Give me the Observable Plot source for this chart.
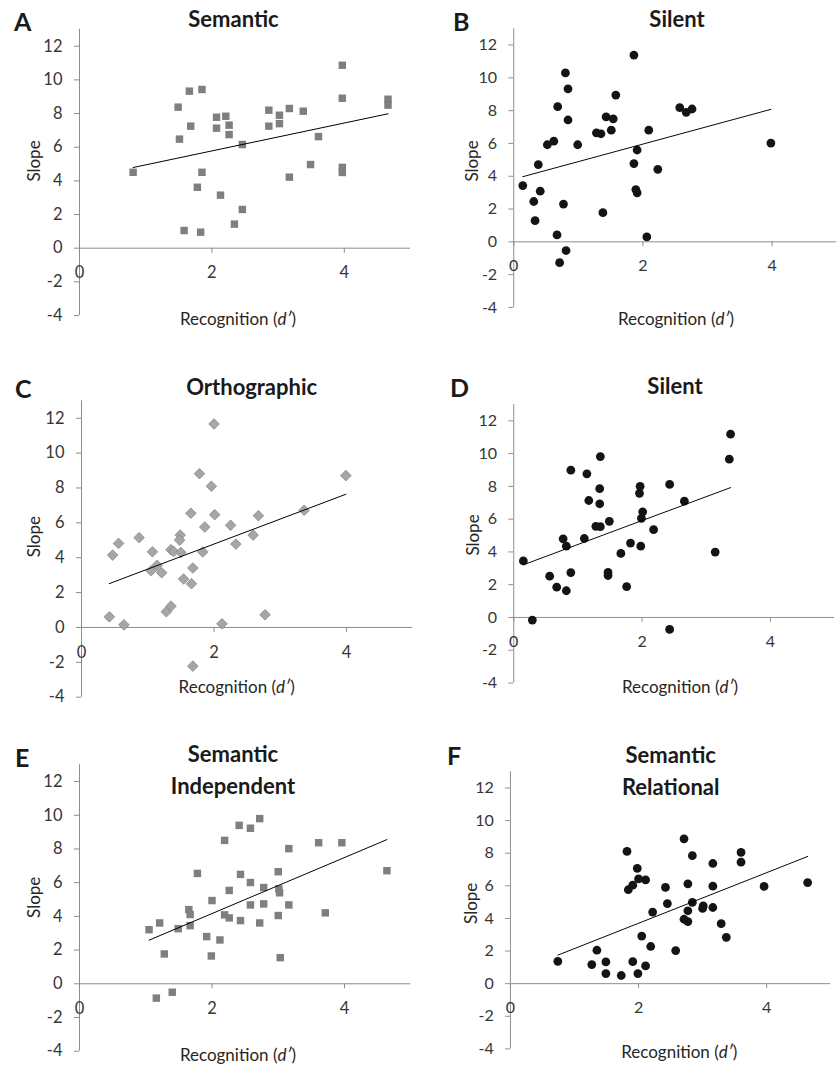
<!DOCTYPE html>
<html>
<head>
<meta charset="utf-8">
<script src="https://cdn.jsdelivr.net/npm/d3@7"></script>
<script src="https://cdn.jsdelivr.net/npm/@observablehq/plot@0.6"></script>
<style>
html, body { margin: 0; padding: 0; background: #fff; overflow: hidden; }
body { width: 839px; height: 1066px; position: relative; font-family: Lato, "Open Sans", sans-serif; }
.panel { position: absolute; }
</style>
</head>
<body>
<script>
// ---------- data ----------
const xTicks = [0, 2, 4];
const yTicks = [-4, -2, 0, 2, 4, 6, 8, 10, 12];
const letters = ["A", "B", "C", "D", "E", "F"];
const titles = [["Semantic"], ["Silent"], ["Orthographic"], ["Silent"], ["Semantic", "Independent"], ["Semantic", "Relational"]];
const xLabel = "Recognition";
const yLabel = "Slope";

const A_x = [0.81,1.49,1.51,1.66,1.68,1.58,1.78,1.85,1.85,1.83,2.07,2.07,2.13,2.21,2.26,2.26,2.34,2.46,2.46,2.86,2.86,3.02,3.02,3.17,3.17,3.38,3.49,3.61,3.97,3.97,3.97,3.97,4.66,4.66];
const A_y = [4.51,8.38,6.48,9.33,7.25,1.05,3.62,9.43,4.51,0.95,7.78,7.13,3.15,7.84,7.31,6.75,1.43,6.16,2.30,8.20,7.25,7.9,7.4,8.30,4.22,8.14,4.97,6.63,10.87,8.91,4.8,4.5,8.85,8.5];

const B_x = [0.14,0.31,0.33,0.38,0.41,0.52,0.62,0.67,0.68,0.71,0.77,0.80,0.81,0.84,0.84,0.99,1.28,1.35,1.38,1.43,1.51,1.54,1.58,1.86,1.86,1.91,1.89,1.91,2.06,2.09,2.23,2.57,2.67,2.76,3.98];
const B_y = [3.43,2.46,1.29,4.71,3.09,5.92,6.14,0.42,8.24,-1.27,2.30,10.30,-0.53,9.33,7.43,5.92,6.65,6.59,1.78,7.62,6.81,7.50,8.95,11.39,4.77,5.60,3.19,2.99,0.30,6.81,4.42,8.18,7.90,8.10,6.02];

const C_x = [0.42,0.47,0.56,0.64,0.87,1.05,1.07,1.14,1.21,1.28,1.35,1.35,1.39,1.49,1.48,1.50,1.54,1.65,1.66,1.68,1.68,1.78,1.83,1.86,1.96,2.00,2.01,2.12,2.25,2.33,2.59,2.67,2.77,3.36,3.99];
const C_y = [0.61,4.15,4.82,0.15,5.15,3.25,4.34,3.56,3.14,0.90,1.22,4.46,4.36,5.30,5.01,4.30,2.78,6.55,2.51,3.41,-2.22,8.82,4.33,5.76,8.10,11.67,6.47,0.21,5.86,4.78,5.30,6.41,0.73,6.72,8.71];

const D_x = [0.15,0.29,0.56,0.67,0.77,0.82,0.82,0.89,0.89,1.10,1.14,1.17,1.28,1.35,1.35,1.34,1.34,1.47,1.47,1.49,1.67,1.76,1.82,1.97,1.96,1.98,1.99,2.01,2.18,2.43,2.43,2.66,3.14,3.36,3.38];
const D_y = [3.45,-0.16,2.52,1.85,4.80,1.63,4.35,8.99,2.74,4.82,8.77,7.14,5.56,5.54,9.82,7.86,6.94,2.75,2.56,5.87,3.91,1.88,4.54,8.00,7.58,4.35,6.05,6.45,5.36,8.12,-0.73,7.10,3.99,9.66,11.19];

const E_x = [1.05,1.21,1.16,1.28,1.40,1.49,1.65,1.67,1.67,1.78,1.92,1.99,2.00,2.12,2.19,2.19,2.26,2.26,2.41,2.43,2.43,2.58,2.58,2.58,2.72,2.72,2.78,2.78,3.00,3.01,3.02,3.00,3.03,3.16,3.16,3.61,3.71,3.96,4.64];
const E_y = [3.21,3.61,-0.85,1.77,-0.50,3.27,4.40,4.11,3.45,6.55,2.80,1.65,4.94,2.60,8.51,4.09,3.91,5.54,9.40,6.49,3.75,9.23,6.01,4.68,9.80,3.61,5.71,4.74,6.65,5.63,5.40,4.05,1.55,8.02,4.68,8.37,4.21,8.37,6.71];

const F_x = [0.74,1.27,1.35,1.49,1.49,1.73,1.82,1.84,1.91,1.91,1.98,1.99,2.00,2.05,2.11,2.11,2.19,2.22,2.42,2.45,2.58,2.71,2.71,2.77,2.77,2.77,2.84,2.84,3.00,3.01,3.16,3.16,3.16,3.29,3.37,3.60,3.60,3.96,4.64];
const F_y = [1.37,1.17,2.05,1.33,0.62,0.50,8.11,5.76,6.04,1.35,7.07,0.62,6.42,2.92,6.36,1.09,2.28,4.39,5.90,4.91,2.03,8.88,3.95,3.81,6.12,4.47,7.85,4.99,4.61,4.77,7.37,5.98,4.67,3.68,2.84,8.05,7.45,5.96,6.20];

const seriesX = [A_x, B_x, C_x, D_x, E_x, F_x];
const seriesY = [A_y, B_y, C_y, D_y, E_y, F_y];
const markers = ["square", "circle", "diamond2", "circle", "square", "circle"];

// ---------- layout & style ----------
const FONT = "Lato, 'Open Sans', sans-serif";
const axisGray = "#8c8c8c";
const tickText = "#363636";
const markerStyle = {
  square: {fill: "#7f7f7f", stroke: "none", r: 4.2},
  circle: {fill: "#141414", stroke: "none", r: 4.5},
  diamond2: {fill: "#a6a6a6", stroke: "#7f7f7f", strokeWidth: 0.7, r: 4.8}
};
const frames = [
  {left: 0,   top: 0,   width: 420, height: 345, mL: 79,   mR: 10,  mT: 28.9, mB: 30},
  {left: 420, top: 0,   width: 430, height: 345, mL: 95.7, mR: 2.8, mT: 28.9, mB: 30},
  {left: 0,   top: 370, width: 420, height: 345, mL: 81,   mR: 7.7, mT: 30.3, mB: 18.3},
  {left: 420, top: 370, width: 430, height: 345, mL: 95.7, mR: 5.1, mT: 34.9, mB: 24.3},
  {left: 0,   top: 721, width: 420, height: 345, mL: 79,   mR: 9.75, mT: 43.2, mB: 15.3},
  {left: 420, top: 721, width: 430, height: 345, mL: 92.3, mR: 9,   mT: 51.5, mB: 9}
];
// text anchor positions (page px)
const textPos = [
  {lx: 14,  ly: 30.7,  tx: 233.5, ty: 27.3,  sx: 40, sy: 161,   rx: 238,   ry: 325},
  {lx: 453, ly: 30.7,  tx: 677,   ty: 27,    sx: 478, sy: 161,   rx: 676,   ry: 325},
  {lx: 15,  ly: 398,   tx: 251.7, ty: 395,   sx: 40, sy: 536.7, rx: 236.7, ry: 692.7},
  {lx: 450, ly: 396.7, tx: 675,   ty: 394.3, sx: 479, sy: 535,   rx: 680,   ry: 692.7},
  {lx: 15,  ly: 766.7, tx: 233,   ty: 762.3, sx: 40, sy: 897.3, rx: 238,   ry: 1061},
  {lx: 447, ly: 765,   tx: 670.7, ty: 763,   sx: 477, sy: 903.3, rx: 679.3, ry: 1057.7}
];
const titleLineGap = 31.5;

frames.forEach((f, i) => {
  const data = d3.zip(seriesX[i], seriesY[i]).map(([x, y]) => ({x, y}));
  const ms = markerStyle[markers[i]];
  const chart = Plot.plot({
    width: f.width, height: f.height,
    marginLeft: f.mL, marginRight: f.mR, marginTop: f.mT, marginBottom: f.mB,
    x: {domain: [0, 5], axis: null},
    y: {domain: [-4, 13], axis: null},
    style: {fontFamily: FONT, background: "transparent", overflow: "visible"},
    marks: [
      Plot.ruleX([0], {stroke: axisGray, strokeWidth: 1}),
      Plot.ruleY([0], {stroke: axisGray, strokeWidth: 1}),
      Plot.ruleX(xTicks, {x: d => d, y1: 0, y2: 0, insetBottom: -5, stroke: axisGray}),
      Plot.ruleY(yTicks, {y: d => d, x1: 0, x2: 0, insetLeft: -5, stroke: axisGray}),
      Plot.text(yTicks, {x: 0, y: d => d, text: d => String(d), textAnchor: "end", dx: -17, fontSize: 16.5, fill: tickText}),
      Plot.text(xTicks, {x: d => d, y: 0, text: d => String(d), dy: 25, fontSize: 16.5, fill: tickText}),
      Plot.dot(data, {x: "x", y: "y", symbol: markers[i], r: ms.r, fill: ms.fill, stroke: ms.stroke, strokeWidth: ms.strokeWidth || 0}),
      Plot.linearRegressionY(data, {x: "x", y: "y", ci: 0, stroke: "#000", strokeWidth: 1})
    ]
  });
  const div = document.createElement("div");
  div.className = "panel";
  div.style.left = f.left + "px";
  div.style.top = f.top + "px";
  div.appendChild(chart);
  document.body.appendChild(div);
});

// ---------- text overlay ----------
const overlay = d3.select("body").append("svg")
  .attr("width", 839).attr("height", 1066)
  .style("position", "absolute").style("left", 0).style("top", 0)
  .style("pointer-events", "none")
  .style("font-family", FONT);

textPos.forEach((p, i) => {
  overlay.append("text").attr("x", p.lx).attr("y", p.ly)
    .attr("font-size", 25).attr("font-weight", 700).attr("fill", "#1a1a1a")
    .text(letters[i]);
  titles[i].forEach((line, k) => {
    overlay.append("text").attr("x", p.tx).attr("y", p.ty + k * titleLineGap)
      .attr("text-anchor", "middle").attr("font-size", 22).attr("font-weight", 700).attr("fill", "#1a1a1a")
      .text(line);
  });
  overlay.append("text")
    .attr("transform", `translate(${p.sx},${p.sy}) rotate(-90)`)
    .attr("text-anchor", "middle").attr("font-size", 17).attr("fill", "#262626")
    .text(yLabel);
  const r = overlay.append("text").attr("x", p.rx).attr("y", p.ry)
    .attr("text-anchor", "middle").attr("font-size", 17).attr("fill", "#262626");
  r.append("tspan").text(xLabel + " (");
  r.append("tspan").attr("font-style", "italic").text("d\u2032");
  r.append("tspan").text(")");
});
</script>
</body>
</html>
